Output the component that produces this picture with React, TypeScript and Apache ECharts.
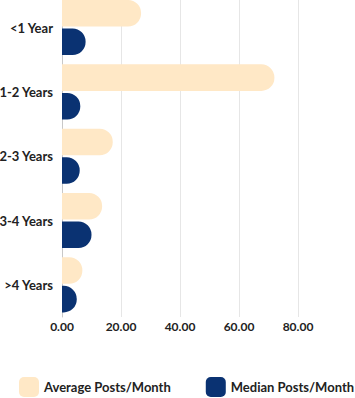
import React, { useEffect, useRef } from "react";
import * as echarts from "echarts";

const categories = ["<1 Year", "1-2 Years", "2-3 Years", "3-4 Years", ">4 Years"];
const averagePosts = [26.8, 72.0, 17.2, 13.6, 6.9];
const medianPosts = [8.0, 6.2, 6.0, 10.0, 5.0];
const seriesNames = ["Average Posts/Month", "Median Posts/Month"];

export default function App() {
  const ref = useRef<HTMLDivElement>(null);
  useEffect(() => {
    if (!ref.current) return;
    const chart = echarts.init(ref.current, undefined, { renderer: "svg" });
    const font = "Lato";
    const gl = "#e6e6e6";
    chart.setOption({
      animation: false,
      textStyle: { fontFamily: font },
      grid: {
        left: 62,
        width: 295,
        top: -4.6,
        height: 321.6,
        containLabel: false,
        outerBoundsMode: "none",
      },
      legend: {
        bottom: 1,
        left: 19,
        padding: 0,
        width: 380,
        itemWidth: 20,
        itemHeight: 20,
        itemGap: 35,
        icon: "roundRect",
        textStyle: { fontFamily: font, fontSize: 13, fontWeight: "bold", color: "#222" },
        data: seriesNames,
      },
      xAxis: {
        type: "value",
        min: 0,
        max: 100,
        interval: 20,
        axisLine: { show: false },
        axisTick: { show: false },
        splitLine: {
          lineStyle: { color: [gl, gl, gl, gl, gl, "rgba(0,0,0,0)"], width: 1 },
        },
        axisLabel: {
          margin: 3,
          fontFamily: font,
          fontSize: 12,
          fontWeight: "bold",
          color: "#222",
          formatter: (v: number) => (v >= 100 ? "" : v.toFixed(2)),
        },
      },
      yAxis: {
        type: "category",
        inverse: true,
        data: categories,
        axisLine: { show: true, lineStyle: { color: "#c8c8c8", width: 1 } },
        axisTick: { show: false },
        axisLabel: {
          margin: 9,
          fontFamily: font,
          fontSize: 13,
          fontWeight: "bold",
          color: "#222",
        },
      },
      series: [
        {
          name: seriesNames[0],
          type: "bar",
          data: averagePosts,
          barCategoryGap: "14.3%",
          barGap: "7.5%",
          itemStyle: { color: "#FFE8C6", borderRadius: [0, 13, 13, 0] },
        },
        {
          name: seriesNames[1],
          type: "bar",
          data: medianPosts,
          barCategoryGap: "14.3%",
          barGap: "7.5%",
          itemStyle: { color: "#0A3272", borderRadius: [0, 13, 13, 0] },
        },
      ],
    });
    return () => chart.dispose();
  }, []);
  return (
    <div
      ref={ref}
      style={{ position: "absolute", left: 0, top: 0, width: 355, height: 398 }}
    />
  );
}
